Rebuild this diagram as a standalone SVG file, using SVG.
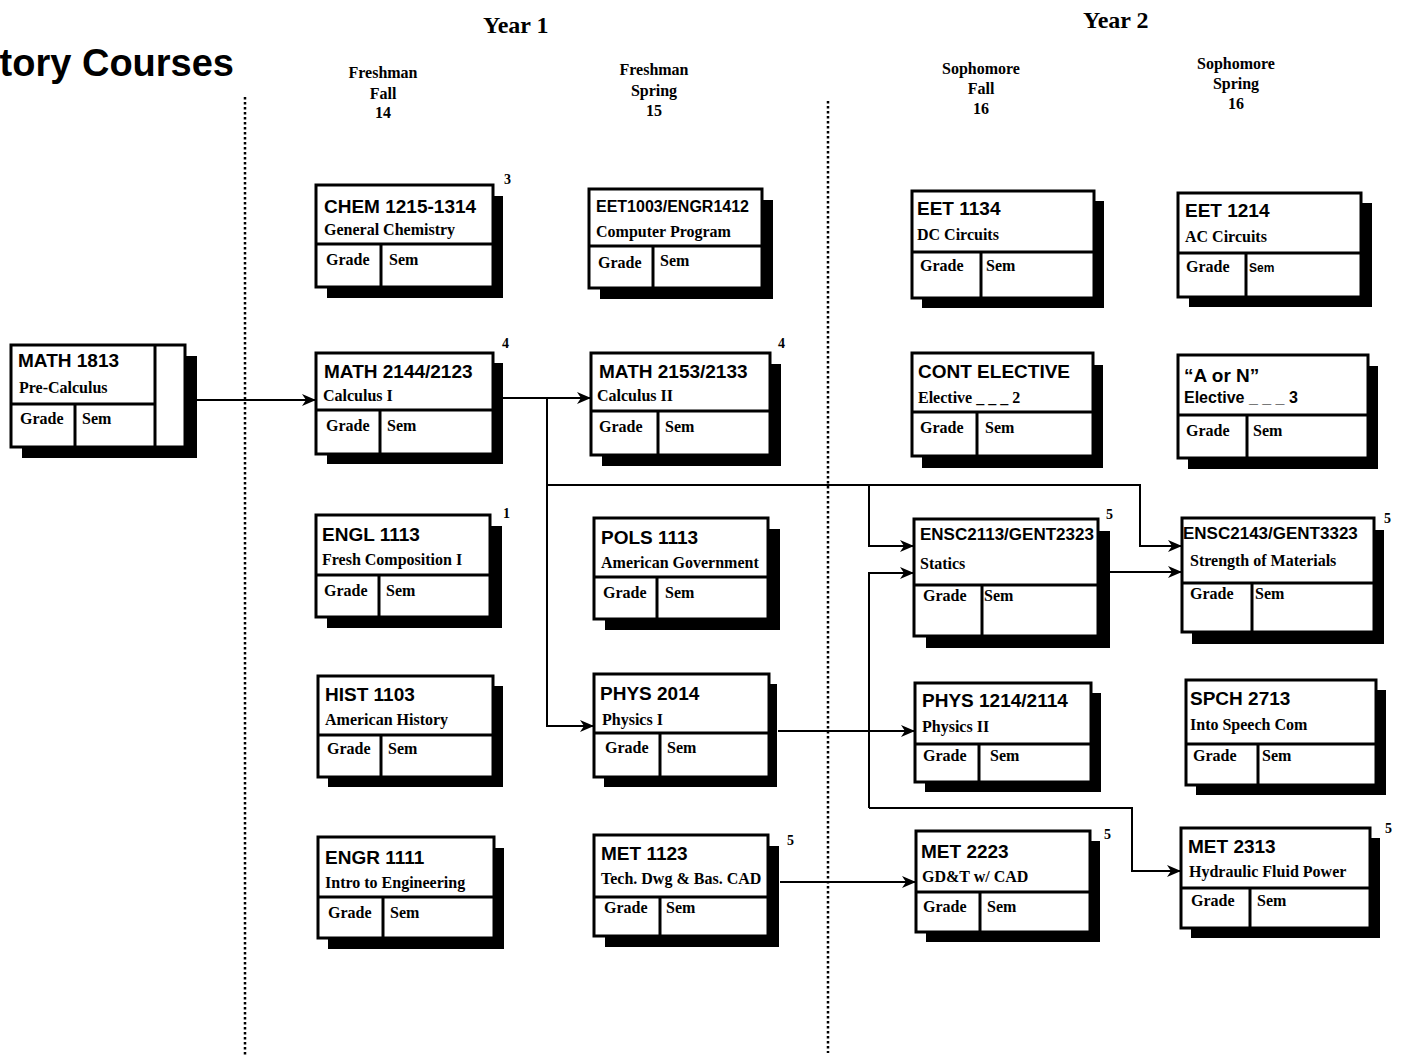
<svg xmlns="http://www.w3.org/2000/svg" width="1405" height="1061" viewBox="0 0 1405 1061">
<style>
.sh{fill:#000}
.bx{fill:#fff;stroke:#000;stroke-width:3}
.dv{stroke:#000;stroke-width:3}
.code{font-family:"Liberation Sans",Arial,sans-serif;font-weight:bold;font-size:19px}
.c16{font-size:16px}
.c17{font-size:17px}
.sub{font-family:"Liberation Serif","Times New Roman",serif;font-weight:bold;font-size:16px}
.asub{font-family:"Liberation Sans",Arial,sans-serif;font-weight:bold;font-size:16px}
.asem{font-family:"Liberation Sans",Arial,sans-serif;font-weight:bold;font-size:12px}
.num{font-family:"Liberation Serif","Times New Roman",serif;font-weight:bold;font-size:14px}
.hdr{font-family:"Liberation Serif","Times New Roman",serif;font-weight:bold;font-size:16px;text-anchor:middle}
.yr{font-family:"Liberation Serif","Times New Roman",serif;font-weight:bold;font-size:24px}
.ttl{font-family:"Liberation Sans",Arial,sans-serif;font-weight:bold;font-size:38px;text-anchor:end}
.conn{fill:none;stroke:#000;stroke-width:2}
.dot{stroke:#000;stroke-width:2.5;stroke-dasharray:2.5 2.5}
</style>
<defs>
<marker id="ah" markerUnits="userSpaceOnUse" markerWidth="15" markerHeight="12" refX="14" refY="6" orient="auto">
<path d="M0,0 L14,6 L0,12 L4,6 z" fill="#000"/>
</marker>
</defs>
<rect width="1405" height="1061" fill="#fff"/>

<g id="headers">
<text class="ttl" x="234" y="76">tory Courses</text>
<text class="yr" x="483" y="33">Year 1</text>
<text class="yr" x="1083" y="28">Year 2</text>
<text class="hdr" x="383" y="78">Freshman</text>
<text class="hdr" x="383" y="99">Fall</text>
<text class="hdr" x="383" y="118">14</text>
<text class="hdr" x="654" y="75">Freshman</text>
<text class="hdr" x="654" y="96">Spring</text>
<text class="hdr" x="654" y="116">15</text>
<text class="hdr" x="981" y="74">Sophomore</text>
<text class="hdr" x="981" y="94">Fall</text>
<text class="hdr" x="981" y="114">16</text>
<text class="hdr" x="1236" y="69">Sophomore</text>
<text class="hdr" x="1236" y="89">Spring</text>
<text class="hdr" x="1236" y="109">16</text>
</g>

<g id="dividers">
<line class="dot" x1="245" y1="97" x2="245" y2="1057"/>
<line class="dot" x1="828" y1="101" x2="828" y2="1053"/>
</g>

<g id="connectors">
<path class="conn" d="M197,400 H316" marker-end="url(#ah)"/>
<path class="conn" d="M503,398 H591" marker-end="url(#ah)"/>
<path class="conn" d="M547,398 V726 H594" marker-end="url(#ah)"/>
<path class="conn" d="M547,485 H1140 V546 H1182" marker-end="url(#ah)"/>
<path class="conn" d="M869,485 V546 H914" marker-end="url(#ah)"/>
<path class="conn" d="M1110,572 H1182" marker-end="url(#ah)"/>
<path class="conn" d="M869,808 V573 H914" marker-end="url(#ah)"/>
<path class="conn" d="M869,808 H1132 V871 H1181" marker-end="url(#ah)"/>
<path class="conn" d="M778,731 H915" marker-end="url(#ah)"/>
<path class="conn" d="M780,882 H916" marker-end="url(#ah)"/>
</g>

<g id="math1813">
<rect class="sh" x="22" y="356" width="175" height="102"/>
<rect class="bx" x="11" y="345" width="174" height="102"/>
<line class="dv" x1="11" y1="404" x2="155" y2="404"/>
<line class="dv" x1="75" y1="404" x2="75" y2="447"/>
<line class="dv" x1="155" y1="345" x2="155" y2="447"/>
<text class="code" x="18" y="367">MATH 1813</text>
<text class="sub" x="19" y="393">Pre-Calculus</text>
<text class="sub" x="20" y="424">Grade</text>
<text class="sub" x="82" y="424">Sem</text>
</g>

<g id="chem">
<rect class="sh" x="327" y="196" width="176" height="102"/>
<rect class="bx" x="316" y="185" width="177" height="102"/>
<line class="dv" x1="316" y1="244" x2="493" y2="244"/>
<line class="dv" x1="381" y1="244" x2="381" y2="287"/>
<text class="code" x="324" y="213">CHEM 1215-1314</text>
<text class="sub" x="324" y="235">General Chemistry</text>
<text class="sub" x="326" y="265">Grade</text>
<text class="sub" x="389" y="265">Sem</text>
<text class="num" x="504" y="184">3</text>
</g>

<g id="eet1003">
<rect class="sh" x="600" y="200" width="173" height="99"/>
<rect class="bx" x="589" y="189" width="173" height="99"/>
<line class="dv" x1="589" y1="246" x2="762" y2="246"/>
<line class="dv" x1="653" y1="246" x2="653" y2="288"/>
<text class="code c16" x="596" y="212">EET1003/ENGR1412</text>
<text class="sub" x="596" y="237">Computer Program</text>
<text class="sub" x="598" y="268">Grade</text>
<text class="sub" x="660" y="266">Sem</text>
</g>

<g id="eet1134">
<rect class="sh" x="922" y="201" width="182" height="107"/>
<rect class="bx" x="912" y="191" width="182" height="107"/>
<line class="dv" x1="912" y1="252" x2="1094" y2="252"/>
<line class="dv" x1="981" y1="252" x2="981" y2="298"/>
<text class="code" x="917" y="215">EET 1134</text>
<text class="sub" x="917" y="240">DC Circuits</text>
<text class="sub" x="920" y="271">Grade</text>
<text class="sub" x="986" y="271">Sem</text>
</g>

<g id="eet1214">
<rect class="sh" x="1189" y="203" width="183" height="104"/>
<rect class="bx" x="1178" y="193" width="183" height="104"/>
<line class="dv" x1="1178" y1="253" x2="1361" y2="253"/>
<line class="dv" x1="1246" y1="253" x2="1246" y2="297"/>
<text class="code" x="1185" y="217">EET 1214</text>
<text class="sub" x="1185" y="242">AC Circuits</text>
<text class="sub" x="1186" y="272">Grade</text>
<text class="asem" x="1249" y="272">Sem</text>
</g>

<g id="math2144">
<rect class="sh" x="327" y="363" width="176" height="101"/>
<rect class="bx" x="316" y="353" width="177" height="101"/>
<line class="dv" x1="316" y1="410" x2="493" y2="410"/>
<line class="dv" x1="380" y1="410" x2="380" y2="454"/>
<text class="code" x="324" y="378">MATH 2144/2123</text>
<text class="sub" x="323" y="401">Calculus I</text>
<text class="sub" x="326" y="431">Grade</text>
<text class="sub" x="387" y="431">Sem</text>
<text class="num" x="502" y="348">4</text>
</g>

<g id="math2153">
<rect class="sh" x="602" y="364" width="179" height="102"/>
<rect class="bx" x="591" y="353" width="179" height="102"/>
<line class="dv" x1="591" y1="411" x2="770" y2="411"/>
<line class="dv" x1="658" y1="411" x2="658" y2="455"/>
<text class="code" x="599" y="378">MATH 2153/2133</text>
<text class="sub" x="597" y="401">Calculus II</text>
<text class="sub" x="599" y="432">Grade</text>
<text class="sub" x="665" y="432">Sem</text>
<text class="num" x="778" y="348">4</text>
</g>

<g id="cont">
<rect class="sh" x="922" y="365" width="181" height="103"/>
<rect class="bx" x="912" y="353" width="181" height="103"/>
<line class="dv" x1="912" y1="412" x2="1093" y2="412"/>
<line class="dv" x1="977" y1="412" x2="977" y2="456"/>
<text class="code" x="918" y="378">CONT ELECTIVE</text>
<text class="sub" x="918" y="403">Elective _ _ _ 2</text>
<text class="sub" x="920" y="433">Grade</text>
<text class="sub" x="985" y="433">Sem</text>
</g>

<g id="aorn">
<rect class="sh" x="1188" y="366" width="190" height="103"/>
<rect class="bx" x="1178" y="355" width="190" height="103"/>
<line class="dv" x1="1178" y1="415" x2="1368" y2="415"/>
<line class="dv" x1="1247" y1="415" x2="1247" y2="458"/>
<text class="code" x="1184" y="382">“A or N”</text>
<text class="asub" x="1184" y="403">Elective _ _ _ 3</text>
<text class="sub" x="1186" y="436">Grade</text>
<text class="sub" x="1253" y="436">Sem</text>
</g>

<g id="engl">
<rect class="sh" x="327" y="526" width="175" height="102"/>
<rect class="bx" x="316" y="515" width="174" height="102"/>
<line class="dv" x1="316" y1="575" x2="490" y2="575"/>
<line class="dv" x1="379" y1="575" x2="379" y2="617"/>
<text class="code" x="322" y="541">ENGL 1113</text>
<text class="sub" x="322" y="565">Fresh Composition I</text>
<text class="sub" x="324" y="596">Grade</text>
<text class="sub" x="386" y="596">Sem</text>
<text class="num" x="503" y="518">1</text>
</g>

<g id="pols">
<rect class="sh" x="605" y="529" width="175" height="101"/>
<rect class="bx" x="594" y="518" width="174" height="101"/>
<line class="dv" x1="594" y1="577" x2="768" y2="577"/>
<line class="dv" x1="657" y1="577" x2="657" y2="619"/>
<text class="code" x="601" y="544">POLS 1113</text>
<text class="sub" x="601" y="568">American Government</text>
<text class="sub" x="603" y="598">Grade</text>
<text class="sub" x="665" y="598">Sem</text>
</g>

<g id="ensc2113">
<rect class="sh" x="926" y="531" width="184" height="117"/>
<rect class="bx" x="914" y="519" width="184" height="117"/>
<line class="dv" x1="914" y1="585" x2="1098" y2="585"/>
<line class="dv" x1="982" y1="585" x2="982" y2="636"/>
<text class="code c17" x="920" y="540">ENSC2113/GENT2323</text>
<text class="sub" x="920" y="569">Statics</text>
<text class="sub" x="923" y="601">Grade</text>
<text class="sub" x="984" y="601">Sem</text>
<text class="num" x="1106" y="519">5</text>
</g>

<g id="ensc2143">
<rect class="sh" x="1192" y="530" width="192" height="114"/>
<rect class="bx" x="1182" y="518" width="192" height="114"/>
<line class="dv" x1="1182" y1="583" x2="1374" y2="583"/>
<line class="dv" x1="1252" y1="583" x2="1252" y2="632"/>
<text class="code c17" x="1183" y="539">ENSC2143/GENT3323</text>
<text class="sub" x="1190" y="566">Strength of Materials</text>
<text class="sub" x="1190" y="599">Grade</text>
<text class="sub" x="1255" y="599">Sem</text>
<text class="num" x="1384" y="523">5</text>
</g>

<g id="hist">
<rect class="sh" x="328" y="686" width="175" height="101"/>
<rect class="bx" x="318" y="676" width="175" height="101"/>
<line class="dv" x1="318" y1="735" x2="493" y2="735"/>
<line class="dv" x1="381" y1="735" x2="381" y2="777"/>
<text class="code" x="325" y="701">HIST 1103</text>
<text class="sub" x="325" y="725">American History</text>
<text class="sub" x="327" y="754">Grade</text>
<text class="sub" x="388" y="754">Sem</text>
</g>

<g id="phys2014">
<rect class="sh" x="604" y="684" width="173" height="103"/>
<rect class="bx" x="594" y="674" width="175" height="103"/>
<line class="dv" x1="594" y1="733" x2="769" y2="733"/>
<line class="dv" x1="660" y1="733" x2="660" y2="777"/>
<text class="code" x="600" y="700">PHYS 2014</text>
<text class="sub" x="602" y="725">Physics I</text>
<text class="sub" x="605" y="753">Grade</text>
<text class="sub" x="667" y="753">Sem</text>
</g>

<g id="phys1214">
<rect class="sh" x="925" y="693" width="176" height="99"/>
<rect class="bx" x="915" y="683" width="176" height="99"/>
<line class="dv" x1="915" y1="744" x2="1091" y2="744"/>
<line class="dv" x1="979" y1="744" x2="979" y2="782"/>
<text class="code" x="922" y="707">PHYS 1214/2114</text>
<text class="sub" x="922" y="732">Physics II</text>
<text class="sub" x="923" y="761">Grade</text>
<text class="sub" x="990" y="761">Sem</text>
</g>

<g id="spch">
<rect class="sh" x="1196" y="690" width="190" height="105"/>
<rect class="bx" x="1186" y="680" width="190" height="105"/>
<line class="dv" x1="1186" y1="744" x2="1376" y2="744"/>
<line class="dv" x1="1258" y1="744" x2="1258" y2="785"/>
<text class="code" x="1190" y="705">SPCH 2713</text>
<text class="sub" x="1190" y="730">Into Speech Com</text>
<text class="sub" x="1193" y="761">Grade</text>
<text class="sub" x="1262" y="761">Sem</text>
</g>

<g id="engr">
<rect class="sh" x="328" y="848" width="176" height="101"/>
<rect class="bx" x="318" y="837" width="176" height="101"/>
<line class="dv" x1="318" y1="897" x2="494" y2="897"/>
<line class="dv" x1="383" y1="897" x2="383" y2="938"/>
<text class="code" x="325" y="864">ENGR 1111</text>
<text class="sub" x="325" y="888">Intro to Engineering</text>
<text class="sub" x="328" y="918">Grade</text>
<text class="sub" x="390" y="918">Sem</text>
</g>

<g id="met1123">
<rect class="sh" x="605" y="846" width="174" height="101"/>
<rect class="bx" x="594" y="835" width="174" height="101"/>
<line class="dv" x1="594" y1="897" x2="768" y2="897"/>
<line class="dv" x1="660" y1="897" x2="660" y2="936"/>
<text class="code" x="601" y="860">MET 1123</text>
<text class="sub" x="601" y="884">Tech. Dwg &amp; Bas. CAD</text>
<text class="sub" x="604" y="913">Grade</text>
<text class="sub" x="666" y="913">Sem</text>
<text class="num" x="787" y="845">5</text>
</g>

<g id="met2223">
<rect class="sh" x="926" y="841" width="174" height="101"/>
<rect class="bx" x="916" y="831" width="174" height="101"/>
<line class="dv" x1="916" y1="892" x2="1090" y2="892"/>
<line class="dv" x1="980" y1="892" x2="980" y2="932"/>
<text class="code" x="921" y="858">MET 2223</text>
<text class="sub" x="922" y="882">GD&amp;T w/ CAD</text>
<text class="sub" x="923" y="912">Grade</text>
<text class="sub" x="987" y="912">Sem</text>
<text class="num" x="1104" y="839">5</text>
</g>

<g id="met2313">
<rect class="sh" x="1191" y="838" width="189" height="100"/>
<rect class="bx" x="1181" y="828" width="189" height="100"/>
<line class="dv" x1="1181" y1="888" x2="1370" y2="888"/>
<line class="dv" x1="1250" y1="888" x2="1250" y2="928"/>
<text class="code" x="1188" y="853">MET 2313</text>
<text class="sub" x="1189" y="877">Hydraulic Fluid Power</text>
<text class="sub" x="1191" y="906">Grade</text>
<text class="sub" x="1257" y="906">Sem</text>
<text class="num" x="1385" y="833">5</text>
</g>
</svg>
